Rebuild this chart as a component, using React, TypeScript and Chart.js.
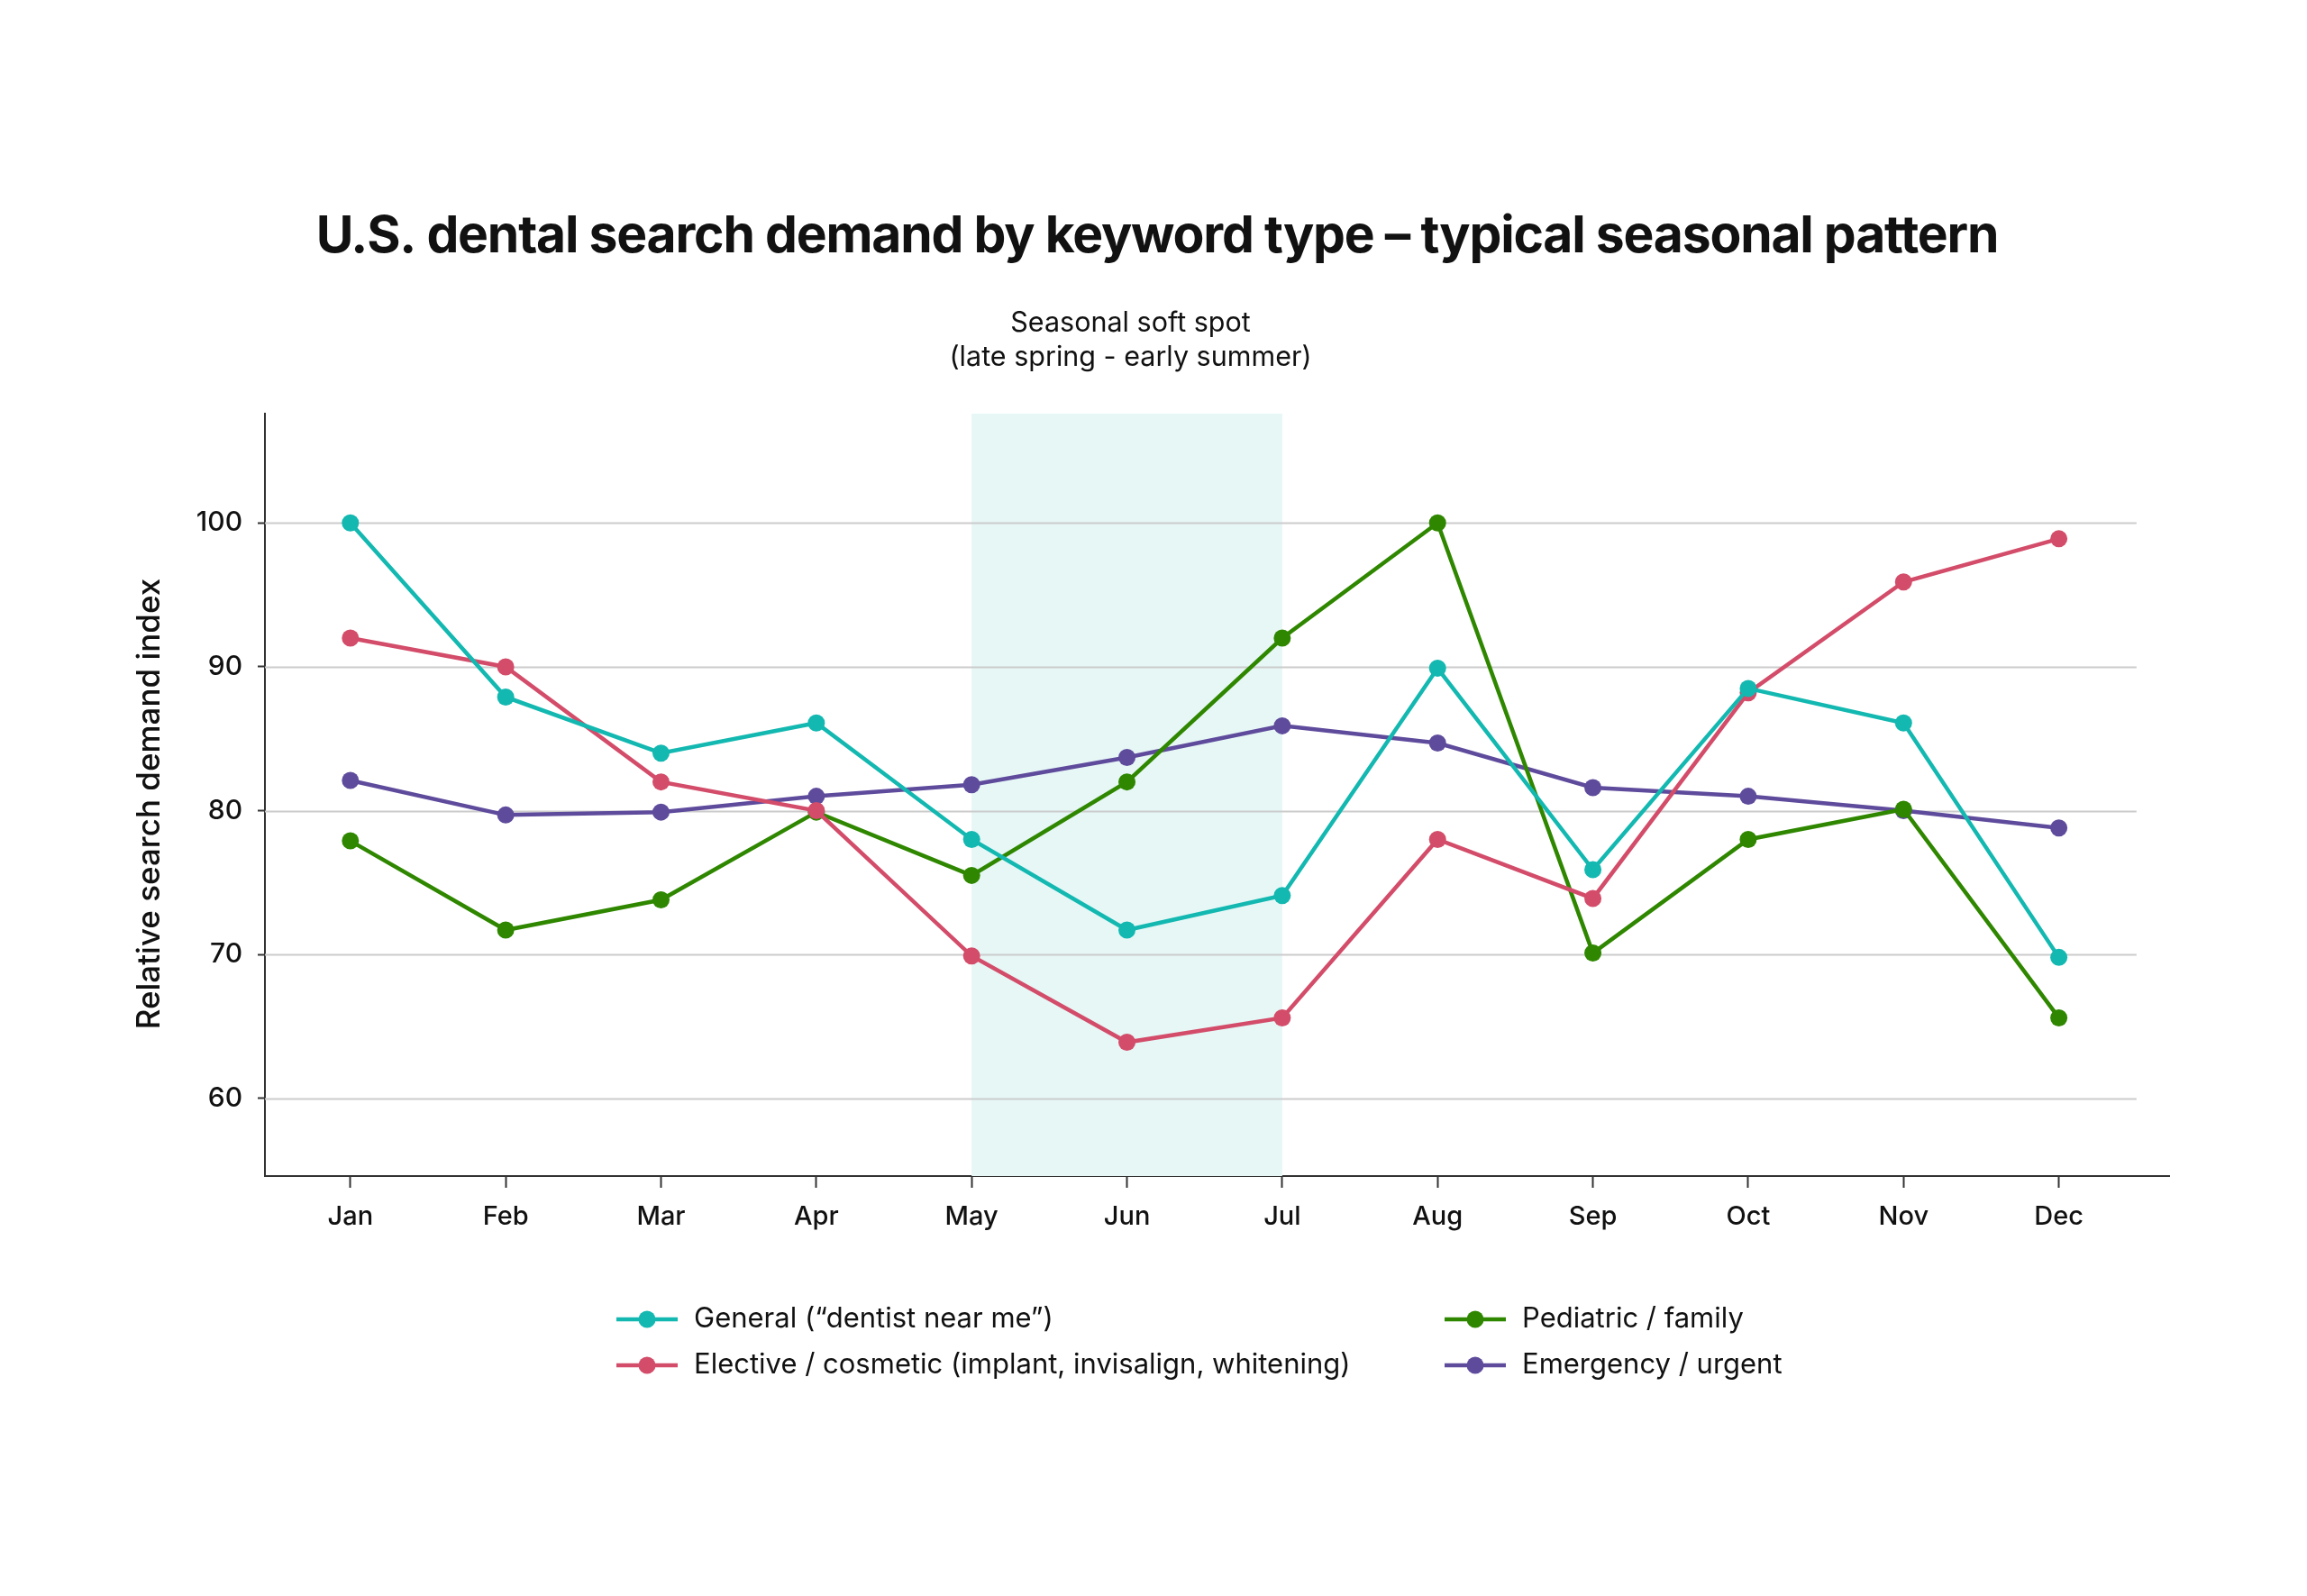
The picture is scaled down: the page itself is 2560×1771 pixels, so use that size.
import { useEffect, useRef } from "react"
import { Chart, registerables } from "chart.js"

Chart.register(...registerables)

const MONTHS = ["Jan", "Feb", "Mar", "Apr", "May", "Jun", "Jul", "Aug", "Sep", "Oct", "Nov", "Dec"]
const GENERAL = [100, 87.9, 84, 86.1, 78, 71.7, 74.1, 89.9, 75.9, 88.5, 86.1, 69.8]
const ELECTIVE = [92, 90, 82, 80, 69.9, 63.9, 65.6, 78, 73.9, 88.2, 95.9, 98.9]
const PEDIATRIC = [77.9, 71.7, 73.8, 79.9, 75.5, 82, 92, 100, 70.1, 78, 80.1, 65.6]
const EMERGENCY = [82.1, 79.7, 79.9, 81, 81.8, 83.7, 85.9, 84.7, 81.6, 81, 80, 78.8]
const SERIES_NAMES = [
  "General (\u201cdentist near me\u201d)",
  "Elective / cosmetic (implant, invisalign, whitening)",
  "Pediatric / family",
  "Emergency / urgent",
]
const SERIES_COLORS = ["#13b8b1", "#d34c69", "#2f8700", "#5f4b9c"]
const Y_TICKS = [60, 70, 80, 90, 100]
const SHADE_START = 4 // May
const SHADE_END = 6 // Jul

const TITLE = "U.S. dental search demand by keyword type \u2013 typical seasonal pattern"
const FONT = "Inter, 'Noto Sans', sans-serif"

export default function App() {
  const chartRef = useRef<HTMLCanvasElement>(null)
  const chartInstance = useRef<Chart | null>(null)

  useEffect(() => {
    if (!chartRef.current) return
    const ctx = chartRef.current.getContext("2d")
    if (!ctx) return

    if (chartInstance.current) {
      chartInstance.current.destroy()
    }

    const series = [GENERAL, ELECTIVE, PEDIATRIC, EMERGENCY]

    const decorations = {
      id: "decorations",
      beforeDatasetsDraw(chart: any) {
        const { ctx, chartArea, scales } = chart
        const x = scales.x
        const y = scales.y
        ctx.save()
        // soft spot band
        ctx.fillStyle = "#e6f7f6"
        const x0 = x.getPixelForValue(SHADE_START)
        const x1 = x.getPixelForValue(SHADE_END)
        ctx.fillRect(x0, chartArea.top, x1 - x0, chartArea.bottom - chartArea.top)
        // grid lines
        ctx.strokeStyle = "#cccccc"
        ctx.lineWidth = 2
        const gx1 = x.getPixelForValue(MONTHS.length - 0.5)
        Y_TICKS.forEach((t) => {
          const py = Math.round(y.getPixelForValue(t)) + 0.5
          ctx.beginPath()
          ctx.moveTo(chartArea.left, py)
          ctx.lineTo(gx1, py)
          ctx.stroke()
        })
        ctx.restore()
      },
      afterDraw(chart: any) {
        const { ctx, chartArea, scales } = chart
        const x = scales.x
        ctx.save()
        ctx.fillStyle = "#111111"
        ctx.textAlign = "center"
        ctx.textBaseline = "middle"

        // title
        ctx.font = `700 57px ${FONT}`
        ctx.letterSpacing = "-1.2px"
        ctx.fillText(TITLE, 1284, 263)
        ctx.letterSpacing = "0px"

        // band annotation
        const bx = (x.getPixelForValue(SHADE_START) + x.getPixelForValue(SHADE_END)) / 2
        ctx.font = `400 30.5px ${FONT}`
        ctx.fillText("Seasonal soft spot", bx + 4, 359)
        ctx.fillText("(late spring - early summer)", bx + 4, 397)

        // y axis title
        ctx.save()
        ctx.translate(166, (chartArea.top + chartArea.bottom) / 2 + 10)
        ctx.rotate(-Math.PI / 2)
        ctx.font = `500 35px ${FONT}`
        ctx.fillText("Relative search demand index", 0, 0)
        ctx.restore()

        // legend, two columns
        const cols = [718, 1637]
        const rows = [1464, 1515]
        ctx.textAlign = "left"
        ctx.font = `400 31px ${FONT}`
        SERIES_NAMES.forEach((name, i) => {
          const cx = cols[Math.floor(i / 2)]
          const cy = rows[i % 2]
          ctx.strokeStyle = SERIES_COLORS[i]
          ctx.fillStyle = SERIES_COLORS[i]
          ctx.lineWidth = 4.5
          ctx.beginPath()
          ctx.moveTo(cx - 34, cy)
          ctx.lineTo(cx + 34, cy)
          ctx.stroke()
          ctx.beginPath()
          ctx.arc(cx, cy, 9.5, 0, Math.PI * 2)
          ctx.fill()
          ctx.fillStyle = "#111111"
          ctx.fillText(name, cx + 52, cy)
        })
        ctx.restore()
      },
    }

    chartInstance.current = new Chart(ctx, {
      type: "line",
      data: {
        datasets: series.map((vals, i) => ({
          label: SERIES_NAMES[i],
          data: vals.map((v, j) => ({ x: j, y: v })),
          borderColor: SERIES_COLORS[i],
          backgroundColor: SERIES_COLORS[i],
          borderWidth: 4.5,
          pointRadius: 9.5,
          pointBorderWidth: 0,
          pointBackgroundColor: SERIES_COLORS[i],
          tension: 0,
        })),
      },
      options: {
        responsive: true,
        maintainAspectRatio: false,
        animation: false,
        devicePixelRatio: 1,
        layout: {
          padding: { left: 147, right: 153, top: 459, bottom: 366 },
        },
        plugins: {
          legend: { display: false },
          title: { display: false },
          tooltip: { enabled: false },
        },
        scales: {
          x: {
            type: "linear",
            min: -0.55,
            max: 11.71,
            afterBuildTicks: (scale: any) => {
              scale.ticks = MONTHS.map((_, i) => ({ value: i }))
            },
            afterFit: (scale: any) => {
              scale.height = 100
            },
            ticks: {
              autoSkip: false,
              maxRotation: 0,
              padding: 15,
              color: "#111111",
              font: { family: FONT, size: 29, weight: 500 },
              callback: (v: any) => MONTHS[v as number] ?? "",
            },
            grid: {
              drawOnChartArea: false,
              drawTicks: true,
              tickLength: 13,
              tickColor: "#333333",
              tickWidth: 2,
            },
            border: { display: true, color: "#333333", width: 2 },
          },
          y: {
            type: "linear",
            min: 54.6,
            max: 107.6,
            afterBuildTicks: (scale: any) => {
              scale.ticks = Y_TICKS.map((v) => ({ value: v }))
            },
            afterFit: (scale: any) => {
              scale.width = 147
            },
            ticks: {
              padding: 17,
              color: "#111111",
              font: { family: FONT, size: 30, weight: 500 },
            },
            grid: {
              drawOnChartArea: false,
              drawTicks: true,
              tickLength: 8,
              tickColor: "#333333",
              tickWidth: 2,
            },
            border: { display: true, color: "#333333", width: 2 },
          },
        },
      },
      plugins: [decorations],
    })

    return () => {
      if (chartInstance.current) {
        chartInstance.current.destroy()
        chartInstance.current = null
      }
    }
  }, [])

  return (
    <div style={{ position: "absolute", left: 0, top: 0, width: 2560, height: 1771, background: "#ffffff" }}>
      <canvas ref={chartRef}></canvas>
    </div>
  )
}
